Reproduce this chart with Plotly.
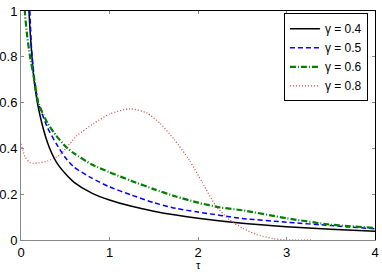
import plotly.graph_objects as go

# gamma = 0.4
tau_04 = [0.05, 0.09, 0.12, 0.15, 0.2, 0.3, 0.4, 0.5, 0.6, 0.8, 1.0, 1.25, 1.5, 1.75, 2.0, 2.5, 3.0, 3.5, 4.0]
val_04 = [1.45, 1.0, 0.82, 0.69, 0.57, 0.425, 0.34, 0.29, 0.252, 0.205, 0.175, 0.147, 0.126, 0.109, 0.095, 0.073, 0.058, 0.047, 0.038]

# gamma = 0.5
tau_05 = [0.07, 0.1, 0.12, 0.15, 0.195, 0.3, 0.4, 0.5, 0.6, 0.8, 1.0, 1.25, 1.5, 1.75, 2.0, 2.5, 3.0, 3.5, 4.0]
val_05 = [1.35, 1.0, 0.83, 0.71, 0.60, 0.49, 0.42, 0.36, 0.318, 0.27, 0.232, 0.196, 0.163, 0.138, 0.122, 0.094, 0.078, 0.063, 0.049]

# gamma = 0.6
tau_06 = [0.03, 0.045, 0.07, 0.1, 0.15, 0.195, 0.3, 0.4, 0.5, 0.6, 0.8, 1.0, 1.25, 1.5, 1.75, 2.0, 2.25, 2.5, 3.0, 3.5, 4.0]
val_06 = [1.15, 0.99, 0.89, 0.806, 0.70, 0.60, 0.51, 0.455, 0.41, 0.378, 0.33, 0.296, 0.258, 0.222, 0.19, 0.163, 0.142, 0.13, 0.095, 0.067, 0.053]

# gamma = 0.8
tau_08 = [0.0, 0.05, 0.1, 0.14, 0.2, 0.3, 0.435, 0.63, 0.82, 1.0, 1.23, 1.42, 1.57, 1.73, 1.9, 2.05, 2.2, 2.35, 2.5, 2.66, 2.85, 3.0, 3.3]
val_08 = [0.42, 0.36, 0.338, 0.335, 0.337, 0.345, 0.37, 0.455, 0.508, 0.55, 0.573, 0.555, 0.51, 0.44, 0.35, 0.25, 0.15, 0.09, 0.052, 0.024, 0.006, 0.0, 0.0]

x_ticks = [0, 1, 2, 3, 4]
y_ticks = [0, 0.2, 0.4, 0.6, 0.8, 1]
y_tick_text = ["0", "0.2", "0.4", "0.6", "0.8", "1"]
x_title = "τ"

FONT = "Liberation Sans, Arial, sans-serif"

fig = go.Figure()
fig.add_trace(go.Scatter(x=tau_04, y=val_04, mode="lines", name="γ = 0.4",
                         line=dict(color="black", width=1.5, dash="solid", shape="spline", smoothing=0.6)))
fig.add_trace(go.Scatter(x=tau_05, y=val_05, mode="lines", name="γ = 0.5",
                         line=dict(color="#0000ff", width=1.5, dash="5px,3px", shape="spline", smoothing=0.6)))
fig.add_trace(go.Scatter(x=tau_06, y=val_06, mode="lines", name="γ = 0.6",
                         line=dict(color="#007f00", width=2.2, dash="6px,2px,1px,2px", shape="spline", smoothing=0.6)))
fig.add_trace(go.Scatter(x=tau_08, y=val_08, mode="lines", name="γ = 0.8",
                         line=dict(color="#d94040", width=1.2, dash="1px,2px", shape="spline", smoothing=0.6)))
# dummy trace for the top/right box axes
fig.add_trace(go.Scatter(x=[None], y=[None], xaxis="x2", yaxis="y2", showlegend=False, hoverinfo="skip"))

fig.update_layout(
    width=382, height=272,
    margin=dict(l=21, r=7, t=11, b=32),
    paper_bgcolor="white", plot_bgcolor="white",
    font=dict(family=FONT, size=13, color="black"),
    showlegend=True,
    legend=dict(x=0.98, y=0.99, xanchor="right", yanchor="top",
                bgcolor="white", bordercolor="black", borderwidth=1,
                font=dict(family=FONT, size=12), tracegroupgap=0, itemwidth=30),
    xaxis=dict(range=[0, 4], tickvals=x_ticks, ticks="inside", ticklen=3, tickcolor="#888",
               showline=True, linecolor="#888", linewidth=1, showgrid=False, zeroline=False,
               automargin=False),
    yaxis=dict(range=[0, 1], tickvals=y_ticks, ticktext=y_tick_text, ticks="inside", ticklen=3,
               tickcolor="#888", showline=True, linecolor="#888", linewidth=1, showgrid=False,
               zeroline=False, automargin=False),
    xaxis2=dict(range=[0, 4], overlaying="x", side="top", anchor="y", tickvals=x_ticks,
                ticks="inside", ticklen=3, tickcolor="#888", showticklabels=False, showline=True,
                linecolor="black", linewidth=1, showgrid=False, zeroline=False, automargin=False),
    yaxis2=dict(range=[0, 1], overlaying="y", side="right", anchor="x", tickvals=y_ticks,
                ticks="inside", ticklen=3, tickcolor="#888", showticklabels=False, showline=True,
                linecolor="black", linewidth=1, showgrid=False, zeroline=False, automargin=False),
    annotations=[dict(text=x_title, xref="paper", yref="paper", x=0.5, y=-0.14,
                      xanchor="center", yanchor="bottom", showarrow=False, borderpad=0,
                      font=dict(family=FONT, size=11))],
)

fig.write_html("out.html", config={"displayModeBar": False},
               post_script="document.body.style.margin='0';document.body.style.overflow='hidden';")
